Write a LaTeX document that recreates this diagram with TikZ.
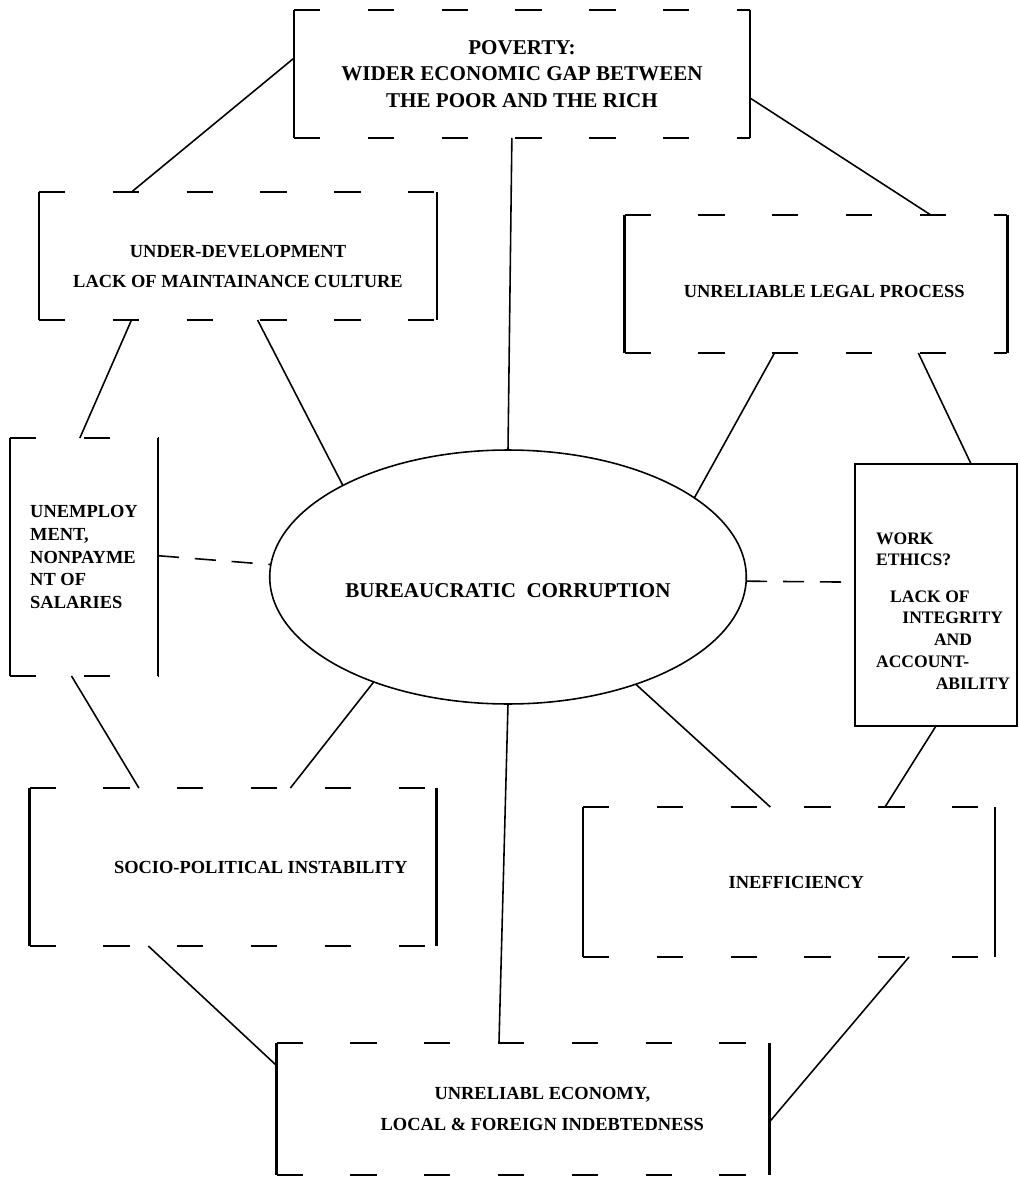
\documentclass[tikz,border=0pt]{standalone}
\usepackage{fontspec}
\setmainfont{Liberation Serif}
\usepackage{tikz}
\usetikzlibrary{shapes.geometric}
\newcommand{\sideframe}[1]{%
  \draw [side] (#1.north west) -- (#1.south west) (#1.north east) -- (#1.south east) ;
  \draw [side, rim] (#1.north west) -- (#1.north east) (#1.south west) -- (#1.south east) ;
}

\begin{document}
\begin{tikzpicture}[x=0.02cm, y=-0.02cm,
    box/.style={outer sep=0pt, inner sep=4pt, align=center,
      font=\fontsize{10.5}{13}\selectfont\bfseries},
    side/.style={line width=1.3pt},
    rim/.style={dash pattern=on 15pt off 27pt},
    link/.style={line width=0.9pt},
    gaplink/.style={line width=0.9pt, dash pattern=on 12pt off 9pt}]
    \useasboundingbox (0,0) rectangle (1019,1189) ;

    \node [box, minimum width=9.12cm, minimum height=2.56cm,
      font=\fontsize{12}{15}\selectfont\bfseries] (poverty) at (522,74) {
      POVERTY: \\
      WIDER ECONOMIC GAP BETWEEN \\
      THE POOR AND THE RICH
    } ;
    \node [box, minimum width=7.96cm, minimum height=2.56cm] (underdev) at (238,256) {
      \rule{0pt}{19pt}UNDER-DEVELOPMENT \\[4pt]
      LACK OF MAINTAINANCE CULTURE
    } ;
    \node [box, minimum width=7.66cm, minimum height=2.76cm] (legal) at (816,284) {
      \rule{0pt}{16pt}\hspace*{12pt}UNRELIABLE LEGAL PROCESS
    } ;
    \node [box, align=left, minimum width=2.96cm, minimum height=4.76cm] (unemp) at (84,557) {
      UNEMPLOY \\
      MENT, \\
      NONPAYME \\
      NT OF \\
      SALARIES
    } ;
    \node [draw, ellipse, line width=0.9pt, outer sep=0pt, minimum width=9.34cm,
      minimum height=5.08cm, font=\fontsize{12}{15}\selectfont\bfseries] (corruption) at (508,577) {
      \rule{0pt}{23pt}BUREAUCRATIC\ \ CORRUPTION
    } ;
    \node [box, draw, side, align=left, inner xsep=0pt, minimum width=3.24cm, minimum height=5.24cm,
      font=\fontsize{10}{12.5}\selectfont\bfseries] (ethics) at (936,595) {
      \rule{0pt}{25pt}\hspace*{8pt}WORK \\
      \hspace*{8pt}ETHICS? \\[8pt]
      \hspace*{16pt}LACK OF \\
      \hspace*{23pt}INTEGRITY \\
      \hspace*{41pt}AND \\
      \hspace*{8pt}ACCOUNT- \\
      \hspace*{42pt}ABILITY
    } ;
    \node [box, minimum width=8.14cm, minimum height=3.16cm] (socio) at (233,867) {
      \hspace*{1.2cm}SOCIO-POLITICAL INSTABILITY
    } ;
    \node [box, minimum width=8.24cm, minimum height=3.0cm] (ineff) at (789,882) {
      \hspace*{11pt}INEFFICIENCY
    } ;
    \node [box, minimum width=9.86cm, minimum height=2.64cm] (economy) at (523,1109) {
      \hspace*{22pt}UNRELIABL ECONOMY, \\[5pt]
      \hspace*{22pt}LOCAL \& FOREIGN INDEBTEDNESS
    } ;

    % box outlines: solid sides, broken top and bottom
    \sideframe{poverty}
    \sideframe{underdev}
    \sideframe{legal}
    \sideframe{unemp}
    \sideframe{socio}
    \sideframe{ineff}
    \sideframe{economy}

    \path [link] (poverty.176) edge (underdev.149) ;
    \path [link] (poverty.354) edge (legal.31) ;
    \path [link] (poverty.261) edge (corruption.90) ;
      \path [link] (underdev.211) edge (unemp.92) ;
      \path [link] (underdev.287) edge (corruption.151) ;
      \path [link] (legal.239) edge (corruption.23) ;
      \path [link] (legal.326) edge (ethics.75) ;
    \path [gaplink] (unemp.1.5) edge (corruption.177) ;
    \path [gaplink] (corruption.359) edge (ethics.171) ;
      \path [link] (unemp.264) edge (socio.140) ;
      \path [link] (corruption.218) edge (socio.54) ;
      \path [link] (corruption.270) edge (economy.110.7) ;
      \path [link] (corruption.320) edge (ineff.104) ;
      \path [link] (ethics.270) edge (ineff.38.6) ;
    \path [link] (socio.223.6) edge (economy.170) ;
    \path [link] (ineff.328) edge (economy.357) ;
  \end{tikzpicture}
\end{document}
